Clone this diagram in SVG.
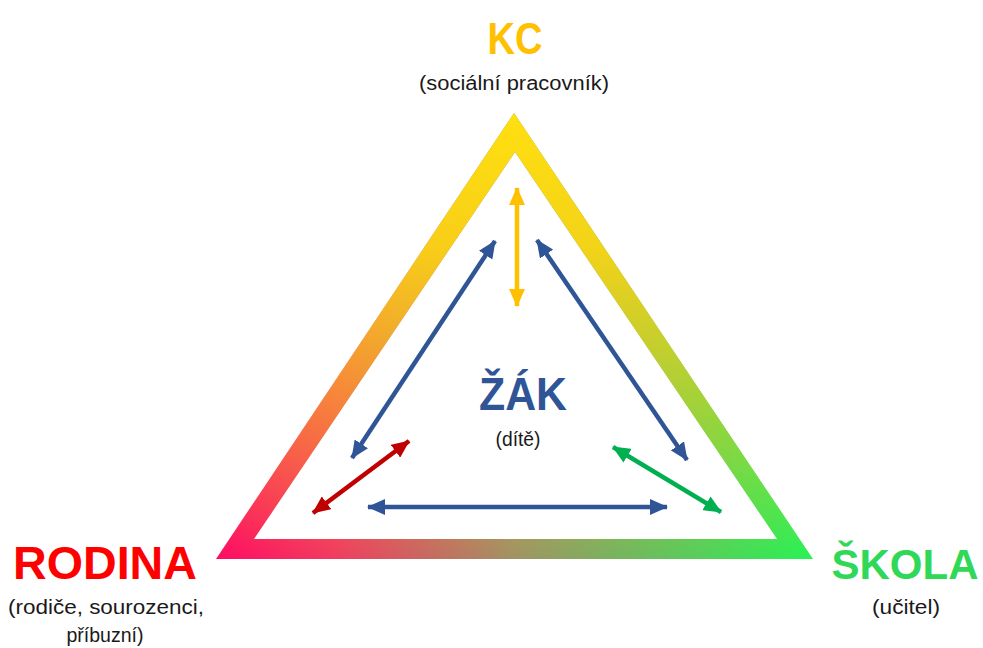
<svg xmlns="http://www.w3.org/2000/svg" width="983" height="648" viewBox="0 0 983 648">
<style>
.title{font-family:"Liberation Sans",Arial,sans-serif;font-weight:bold;text-anchor:middle}
.sub{font-family:"Liberation Sans",Arial,sans-serif;font-size:20px;fill:#1a1a1a;text-anchor:middle}
.conn{stroke-width:4.5;fill:none}
</style>
<defs>
<linearGradient id="gh" gradientUnits="userSpaceOnUse" x1="216" y1="0" x2="813" y2="0">
<stop offset="0" stop-color="#FF0A64"/>
<stop offset="0.2" stop-color="#F03C60"/>
<stop offset="0.5" stop-color="#A09364"/>
<stop offset="1" stop-color="#28F255"/>
</linearGradient>
<linearGradient id="gv" gradientUnits="userSpaceOnUse" x1="0" y1="113" x2="0" y2="559">
<stop offset="0" stop-color="#FFE010" stop-opacity="1"/>
<stop offset="0.3" stop-color="#FFD810" stop-opacity="0.9"/>
<stop offset="1" stop-color="#FFD810" stop-opacity="0"/>
</linearGradient>
<marker id="ab" viewBox="0 0 18 16" refX="17" refY="8" markerWidth="18" markerHeight="16" markerUnits="userSpaceOnUse" orient="auto-start-reverse"><path d="M0,0 L18,8 L0,16 z" fill="#2F5597"/></marker>
<marker id="ay" viewBox="0 0 18 16" refX="17" refY="8" markerWidth="18" markerHeight="16" markerUnits="userSpaceOnUse" orient="auto-start-reverse"><path d="M0,0 L18,8 L0,16 z" fill="#FFC000"/></marker>
<marker id="ar" viewBox="0 0 18 16" refX="17" refY="8" markerWidth="18" markerHeight="16" markerUnits="userSpaceOnUse" orient="auto-start-reverse"><path d="M0,0 L18,8 L0,16 z" fill="#C00000"/></marker>
<marker id="ag" viewBox="0 0 18 16" refX="17" refY="8" markerWidth="18" markerHeight="16" markerUnits="userSpaceOnUse" orient="auto-start-reverse"><path d="M0,0 L18,8 L0,16 z" fill="#00B050"/></marker>
</defs>
<rect width="983" height="648" fill="#fff"/>
<g id="triangle">
<path d="M514,113 L813,559 L216,559 Z M515,152 L254,539 L777,539 Z" fill="url(#gh)" fill-rule="evenodd"/>
<path d="M514,113 L813,559 L216,559 Z M515,152 L254,539 L777,539 Z" fill="url(#gv)" fill-rule="evenodd"/>
</g>
<g id="connectors">
<line class="conn" x1="517" y1="188" x2="517" y2="306" stroke="#FFC000" marker-start="url(#ay)" marker-end="url(#ay)"/>
<line class="conn" x1="495" y1="241" x2="352" y2="458" stroke="#2F5597" marker-start="url(#ab)" marker-end="url(#ab)"/>
<line class="conn" x1="537" y1="240" x2="687" y2="460" stroke="#2F5597" marker-start="url(#ab)" marker-end="url(#ab)"/>
<line class="conn" x1="368" y1="507" x2="667" y2="507" stroke="#2F5597" marker-start="url(#ab)" marker-end="url(#ab)"/>
<line class="conn" x1="409" y1="441" x2="313" y2="513" stroke="#C00000" marker-start="url(#ar)" marker-end="url(#ar)"/>
<line class="conn" x1="613" y1="447" x2="721" y2="512" stroke="#00B050" marker-start="url(#ag)" marker-end="url(#ag)"/>
</g>
<g id="kc">
<text class="title" x="515" y="54" font-size="44" fill="#FFC000" textLength="55" lengthAdjust="spacingAndGlyphs">KC</text>
<text class="sub" x="514" y="90" textLength="190" lengthAdjust="spacingAndGlyphs">(sociální pracovník)</text>
</g>
<g id="zak">
<text class="title" x="523" y="410" font-size="46" fill="#2F5597" textLength="88" lengthAdjust="spacingAndGlyphs">ŽÁK</text>
<text class="sub" x="518" y="446" textLength="45" lengthAdjust="spacingAndGlyphs">(dítě)</text>
</g>
<g id="rodina">
<text class="title" x="105" y="579" font-size="46" fill="#FF0000" textLength="184" lengthAdjust="spacingAndGlyphs">RODINA</text>
<text class="sub" x="106" y="614" textLength="196" lengthAdjust="spacingAndGlyphs">(rodiče, sourozenci,</text>
<text class="sub" x="105" y="642" textLength="77" lengthAdjust="spacingAndGlyphs">příbuzní)</text>
</g>
<g id="skola">
<text class="title" x="905" y="579" font-size="42" fill="#30D858">ŠKOLA</text>
<text class="sub" x="906" y="614" textLength="68" lengthAdjust="spacingAndGlyphs">(učitel)</text>
</g>
</svg>
